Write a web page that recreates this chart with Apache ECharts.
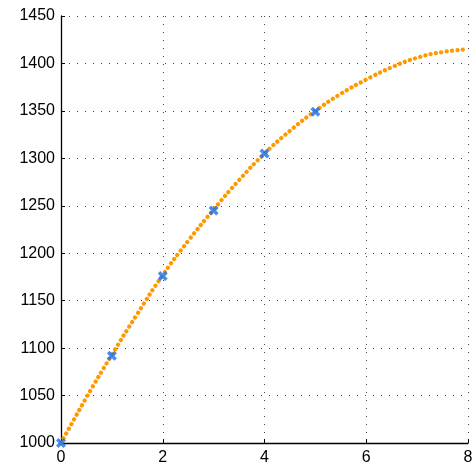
<!DOCTYPE html>
<html>
<head>
<meta charset="utf-8">
<script src="https://cdn.jsdelivr.net/npm/echarts@6/dist/echarts.min.js"></script>
<style>
  html, body { margin: 0; padding: 0; background: #fff; }
  #chart { width: 472px; height: 467px; }
</style>
</head>
<body>
<div id="chart"></div>
<script>
// curve, every 0.5 on x
const curveX = [0, 0.5, 1, 1.5, 2, 2.5, 3, 3.5, 4, 4.5, 5, 5.5, 6, 6.5, 7, 7.5, 8];
const curveY = [1000, 1048, 1093, 1136, 1177, 1213, 1246, 1277, 1305, 1329, 1350, 1368, 1383, 1396, 1406, 1412, 1415];
// measured points (blue crosses)
const pointX = [0, 1, 2, 3, 4, 5];
const pointY = [1000, 1092, 1176, 1245, 1305, 1349];

const chart = echarts.init(document.getElementById('chart'));

const dotted = { type: [1, 7], color: '#444', width: 1 };
// filled X shape
const crossPath = 'path://M0,2.5L2.5,0L5,2.5L7.5,0L10,2.5L7.5,5L10,7.5L7.5,10L5,7.5L2.5,10L0,7.5L2.5,5Z';

chart.setOption({
  animation: false,
  grid: { left: 61, right: 4, top: 16, bottom: 24, outerBoundsMode: 'none' },
  textStyle: { fontFamily: 'Liberation Sans, Arial, sans-serif' },
  xAxis: {
    type: 'value',
    min: 0, max: 8, interval: 2,
    axisLine: { lineStyle: { color: '#000', width: 1.3 } },
    axisTick: { inside: true, length: 4, lineStyle: { color: '#000' } },
    axisLabel: { color: '#000', fontSize: 16, margin: 7, formatter: v => String(v) },
    splitLine: { show: true, lineStyle: dotted }
  },
  yAxis: {
    type: 'value',
    min: 1000, max: 1450, interval: 50,
    axisLine: { show: true, lineStyle: { color: '#000', width: 1.3 } },
    axisTick: { show: true, inside: true, length: 4, lineStyle: { color: '#000' } },
    axisLabel: { color: '#000', fontSize: 16, margin: 6, formatter: v => String(v) },
    splitLine: { show: true, lineStyle: dotted }
  },
  series: [
    {
      type: 'line',
      data: curveX.map((x, i) => [x, curveY[i]]),
      smooth: true,
      showSymbol: false,
      lineStyle: { color: '#ff9900', width: 4.2, type: [0.1, 5.3], cap: 'round' },
      z: 2
    },
    {
      type: 'scatter',
      data: pointX.map((x, i) => [x, pointY[i]]),
      symbol: crossPath,
      symbolSize: 10,
      itemStyle: { color: '#1670f0' },
      z: 3
    }
  ]
});
</script>
</body>
</html>
